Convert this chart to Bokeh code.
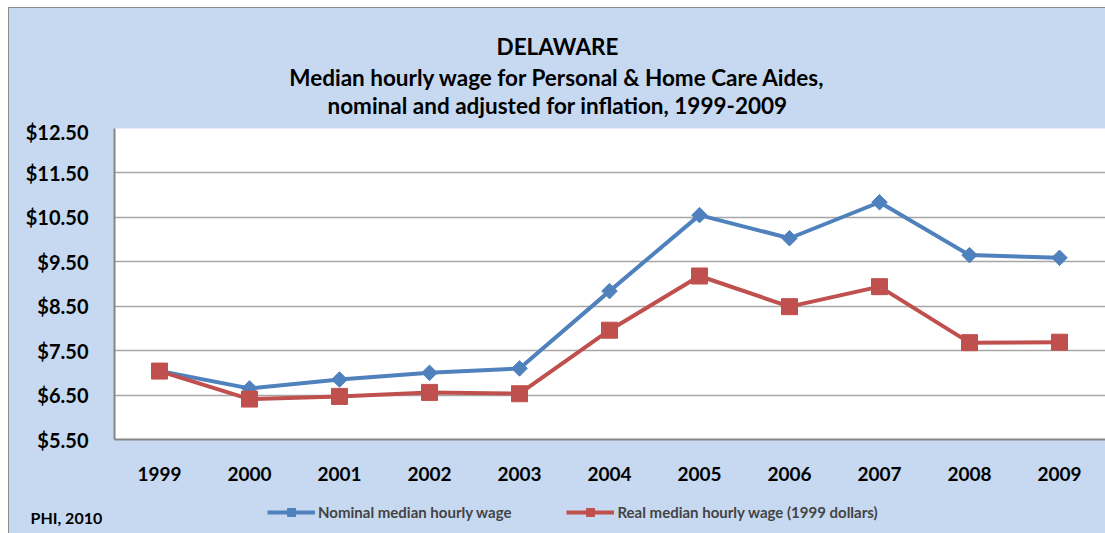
import math
from bokeh.plotting import figure
from bokeh.layouts import column
from bokeh.models import (Range1d, FixedTicker, Legend, LegendItem, Label,
                          NumeralTickFormatter)
from bokeh.embed import file_html
from bokeh.resources import INLINE

years = [1999, 2000, 2001, 2002, 2003, 2004, 2005, 2006, 2007, 2008, 2009]
nominal = [7.04, 6.65, 6.85, 7.00, 7.10, 8.84, 10.55, 10.03, 10.84, 9.65, 9.59]
real = [7.04, 6.41, 6.47, 6.56, 6.53, 7.96, 9.18, 8.49, 8.94, 7.68, 7.69]
y_ticks = [5.5, 6.5, 7.5, 8.5, 9.5, 10.5, 11.5, 12.5]
title_lines = ["DELAWARE",
               "Median hourly wage for Personal & Home Care Aides,",
               "nominal and adjusted for inflation, 1999-2009"]
series_names = ["Nominal median hourly wage", "Real median hourly wage (1999 dollars)"]
source_note = "PHI, 2010"

FONT = "Lato"
BLUE = "#4F81BD"
RED = "#C0504D"
BG = "#C6D9F1"

W = 1096
HEAD_H, MAIN_H, FOOT_H = 111, 371, 43
LEFT, TOP, BOTTOM = 105, 9, 51
frame_w = W - LEFT
px_per_year = 90.0


def blank(height):
    f = figure(width=W, height=height, output_backend="svg", toolbar_location=None,
               x_range=Range1d(0, W), y_range=Range1d(0, height),
               min_border=0, min_border_left=0, min_border_right=0,
               min_border_top=0, min_border_bottom=0, frame_align=False)
    f.axis.visible = False
    f.grid.visible = False
    f.background_fill_color = BG
    f.border_fill_color = BG
    f.outline_line_color = None
    return f


# ---- header with the three title lines ----
head = blank(HEAD_H)
for t, ty in zip(title_lines, [73, 42, 14]):
    head.add_layout(Label(x=548, y=ty, x_units="screen", y_units="screen",
                          text=t, text_font=FONT, text_font_style="bold",
                          text_font_size="22.5px", text_color="black",
                          text_align="center", text_baseline="middle"))

# ---- main chart ----
p = figure(width=W, height=MAIN_H, output_backend="svg", toolbar_location=None,
           x_range=Range1d(1998.5, 1998.5 + frame_w / px_per_year),
           y_range=Range1d(5.5, 12.5),
           min_border_left=LEFT, min_border_right=0, min_border_top=TOP,
           min_border_bottom=BOTTOM)
p.border_fill_color = BG
p.background_fill_color = "white"
p.outline_line_color = None

p.yaxis.ticker = FixedTicker(ticks=y_ticks)
p.yaxis.formatter = NumeralTickFormatter(format="$0.00")
p.xaxis.ticker = FixedTicker(ticks=years)
for ax in (p.xaxis, p.yaxis):
    ax.major_tick_line_color = None
    ax.minor_tick_line_color = None
    ax.major_tick_out = 0
    ax.major_tick_in = 0
    ax.axis_line_color = "#868686"
    ax.axis_line_width = 2
    ax.major_label_text_font = FONT
    ax.major_label_text_font_style = "bold"
    ax.major_label_text_color = "black"
p.yaxis.major_label_text_font_size = "20px"
p.xaxis.major_label_text_font_size = "19px"
p.yaxis.major_label_standoff = 26
p.xaxis.major_label_standoff = 27

p.xgrid.grid_line_color = None
p.ygrid.ticker = FixedTicker(ticks=y_ticks)
p.ygrid.grid_line_color = "#A6A6A6"
p.ygrid.grid_line_width = 1.5

p.line(years, nominal, line_color=BLUE, line_width=4)
p.scatter(years, nominal, marker="square", angle=math.pi / 4, size=11,
          fill_color=BLUE, line_color=BLUE)
p.line(years, real, line_color=RED, line_width=4)
p.scatter(years, real, marker="square", size=16, fill_color=RED, line_color=RED)

# ---- footer with legend and source ----
foot = blank(FOOT_H)
# legend proxies: same series, drawn outside the footer's visible range
fl1 = foot.line(years, nominal, line_color=BLUE, line_width=4)
fs1 = foot.scatter(years, nominal, marker="square", angle=math.pi / 4, size=11,
                   fill_color=BLUE, line_color=BLUE)
fl2 = foot.line(years, real, line_color=RED, line_width=4)
fs2 = foot.scatter(years, real, marker="square", size=16, fill_color=RED, line_color=RED)
legend = Legend(items=[LegendItem(label=series_names[0], renderers=[fl1, fs1]),
                       LegendItem(label=series_names[1], renderers=[fl2, fs2])],
                orientation="horizontal", location=(258, 11),
                glyph_width=48, glyph_height=20, label_standoff=3, spacing=55,
                label_text_font=FONT, label_text_font_style="bold",
                label_text_font_size="15px", background_fill_alpha=0,
                border_line_color=None, padding=4, margin=0)
foot.add_layout(legend, "center")
foot.add_layout(Label(x=21, y=16, x_units="screen", y_units="screen",
                      text=source_note, text_font=FONT, text_font_style="bold",
                      text_font_size="16px", text_color="black",
                      text_baseline="middle"))

layout = column(head, p, foot, spacing=0)
layout.styles = {"margin-left": "8px", "margin-top": "7px", "background-color": BG,
                 "border-left": "1px solid #8c8c8c", "border-top": "1px solid #8c8c8c"}

open("out.html", "w").write(file_html(layout, INLINE))
